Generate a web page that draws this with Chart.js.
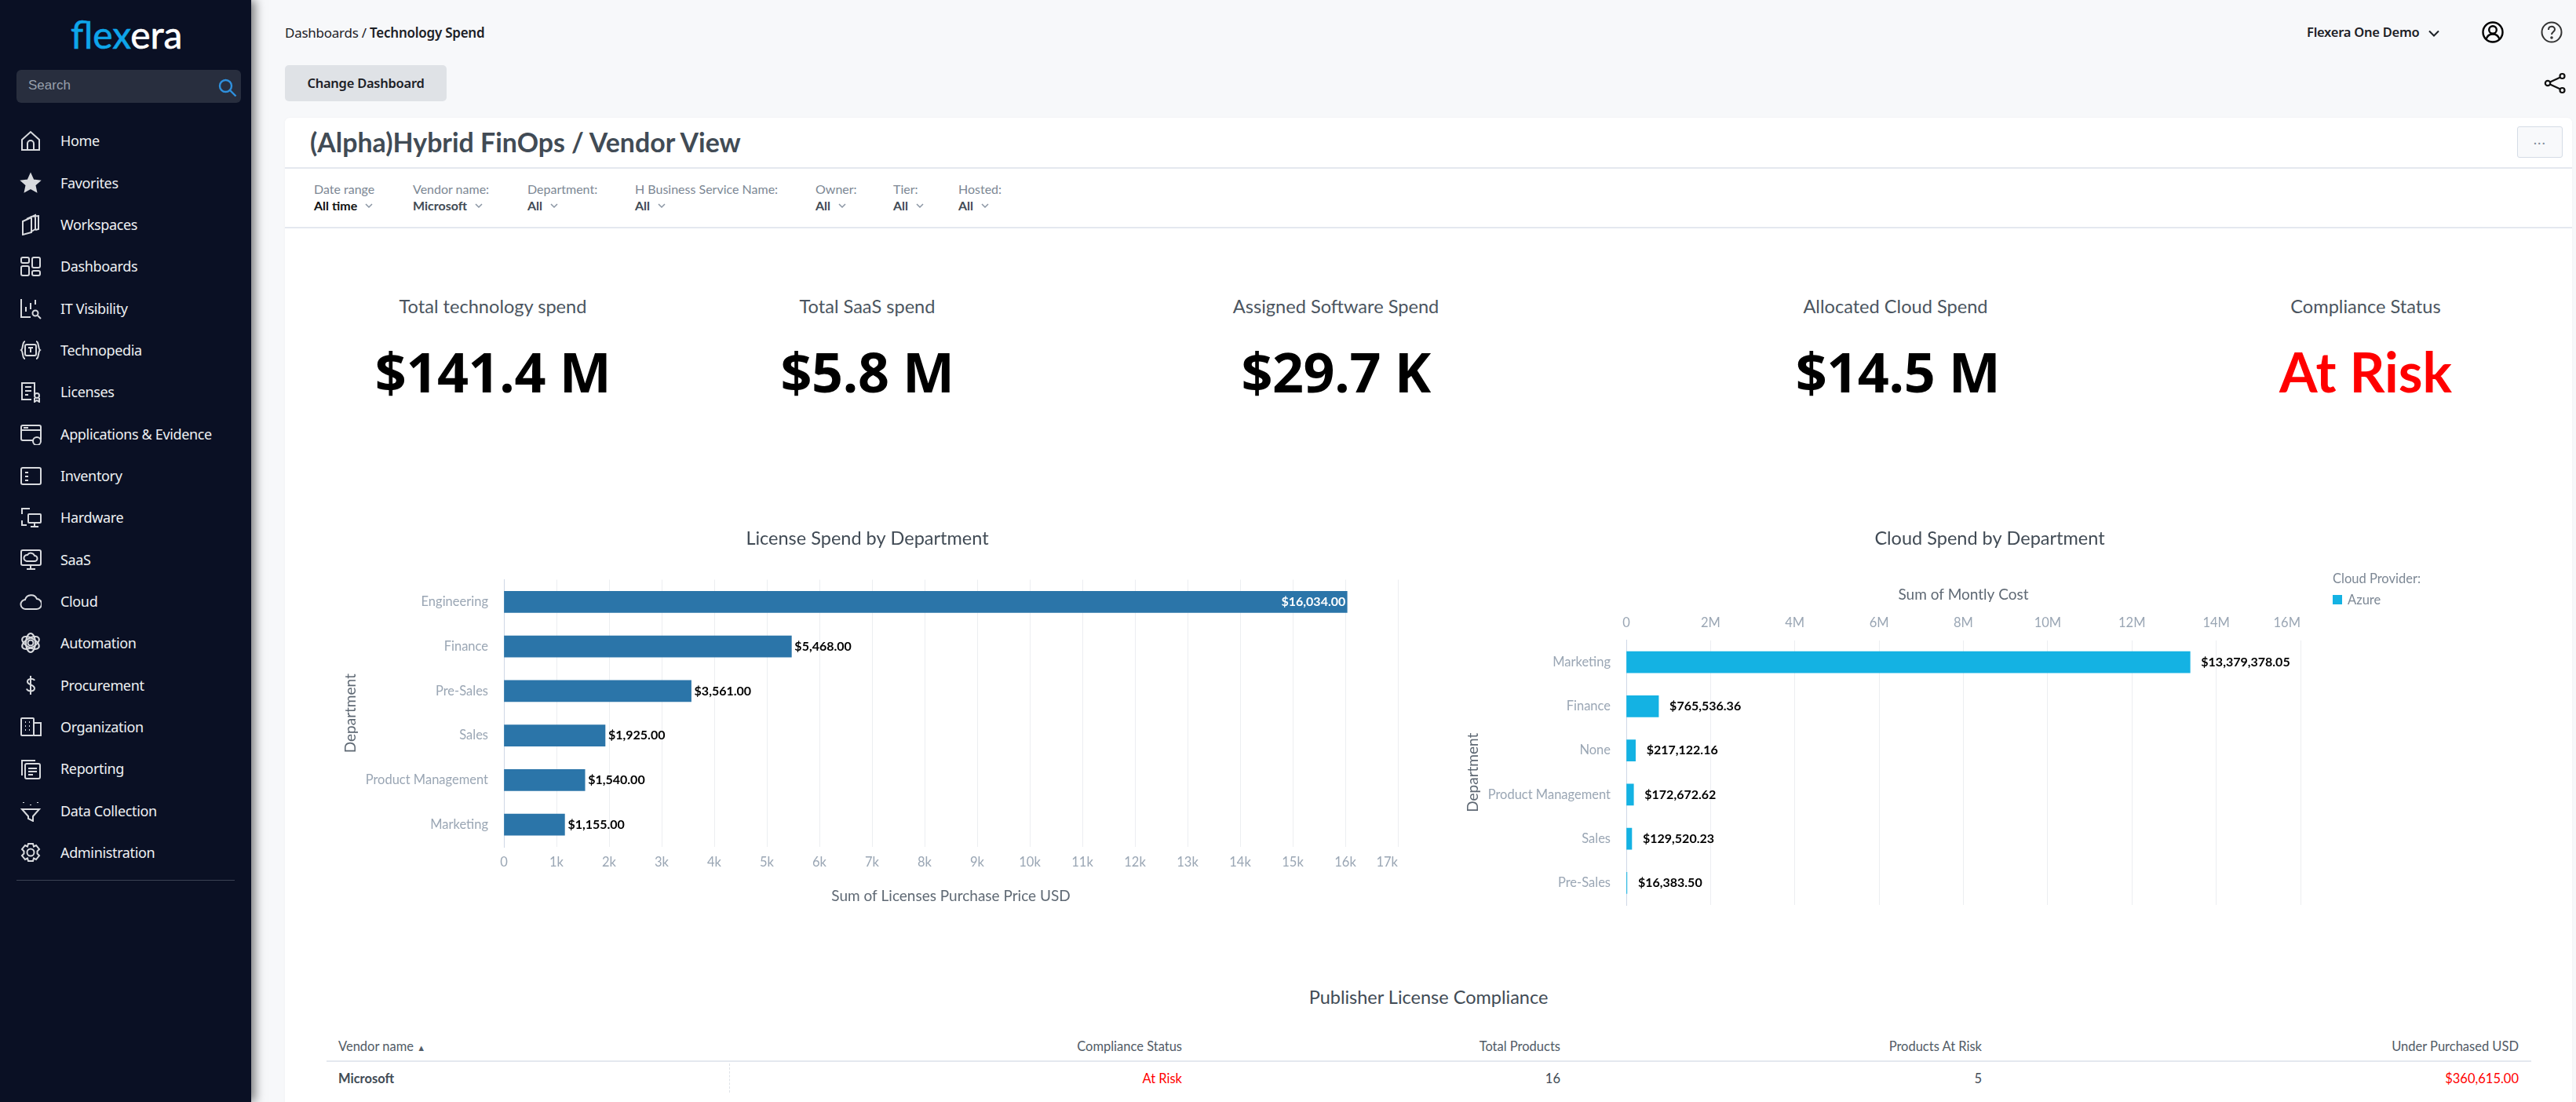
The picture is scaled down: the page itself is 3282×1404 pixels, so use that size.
<!DOCTYPE html>
<html>
<head>
<meta charset="utf-8">
<title>Technology Spend</title>
<script src="https://cdn.jsdelivr.net/npm/chart.js@4/dist/chart.umd.min.js"></script>
<style>
  html, body { margin: 0; padding: 0; background: #f7f8fa; }
  #page { position: relative; width: 3282px; height: 1404px; overflow: hidden; font-family: Lato, sans-serif; }
  .t { position: absolute; white-space: nowrap; line-height: 1; transform: translateY(-50%); }
  .c { transform: translate(-50%, -50%); }
  .r { transform: translate(-100%, -50%); }
  .ns { font-family: "Noto Sans", sans-serif; }
  #sidebar { position: absolute; left: 0; top: 0; width: 320px; height: 1404px; background: #0a1024; box-shadow: 5px 0 12px rgba(0,0,0,.5); z-index: 3; }
  #search { position: absolute; left: 21px; top: 89px; width: 286px; height: 42px; border-radius: 6px; background: #282e3e; }
  #card { position: absolute; left: 363px; top: 150px; width: 2914px; height: 1300px; background: #fff; border-radius: 6px; box-shadow: 0 0 3px rgba(0,0,0,.04); }
  .hline { position: absolute; height: 2px; background: #e4e8ef; }
  canvas { position: absolute; }
  .nav { color: #eef0f3; font-size: 18px; letter-spacing: -.35px; left: 77px; font-family: "Noto Sans", sans-serif; }
  .kpi-l { font-size: 23.6px; color: #4b5560; top: 391px; }
  .kpi-v { font-size: 70px; font-weight: 700; color: #000; top: 473px; font-family: "Open Sans", sans-serif; letter-spacing: -.5px; }
  .flt-l { font-size: 16px; color: #7c8794; top: 241px; }
  .flt-v { font-size: 16px; font-weight: 700; color: #414b55; top: 262px; }
  .th { font-size: 16.5px; color: #515b66; top: 1333px; }
  .td { font-size: 16.5px; color: #414b55; top: 1374px; }
</style>
</head>
<body>
<div id="page">
  <div id="sidebar">
    <div class="t" style="left:90px;top:44px;font-size:48px;font-weight:400;-webkit-text-stroke:.6px;color:#fff"><span style="color:#0ea5e9">flex</span>era</div>
    <div id="search">
      <div class="t" style="left:15px;top:20px;font:17px 'Liberation Sans',sans-serif;color:#98a0ac">Search</div>
      <svg style="position:absolute;left:257px;top:11px" width="24" height="24" viewBox="0 0 24 24" fill="none" stroke="#2f90dd" stroke-width="2.4"><circle cx="9.5" cy="9.5" r="7.5"/><path d="M15 15l7.5 7.5"/></svg>
    </div>
    <div id="nav"></div>
    <div style="position:absolute;left:21px;top:1121px;width:278px;height:1px;background:#3b4254"></div>
  </div>

  <div class="t ns" style="left:363px;top:41px;font-size:17px;color:#1c2026;letter-spacing:-.25px">Dashboards / <b style="font-weight:600">Technology Spend</b></div>
  <div style="position:absolute;left:363px;top:83px;width:206px;height:46px;border-radius:5px;background:#dfe2e6"></div>
  <div class="t c ns" style="left:466px;top:106px;font-size:16.5px;font-weight:600;color:#1c2026;letter-spacing:-.25px">Change Dashboard</div>

  <div class="t ns" style="left:2939px;top:41px;font-size:16.5px;font-weight:600;color:#1c2026;letter-spacing:-.25px">Flexera One Demo</div>
  <svg style="position:absolute;left:3094px;top:38px" width="14" height="9" viewBox="0 0 14 9" fill="none" stroke="#1c2026" stroke-width="2"><path d="M1 1.5l6 6 6-6"/></svg>
  <svg style="position:absolute;left:3162px;top:27px" width="28" height="28" viewBox="0 0 28 28" fill="none" stroke="#000" stroke-width="2.4"><circle cx="14" cy="14" r="12.5"/><circle cx="14" cy="11" r="4.8"/><path d="M5.5 23c1.5-5 4.5-6.5 8.5-6.5s7 1.5 8.5 6.5"/></svg>
  <svg style="position:absolute;left:3237px;top:27px" width="28" height="28" viewBox="0 0 28 28" fill="none" stroke="#333" stroke-width="2"><circle cx="14" cy="14" r="12.5"/><path d="M10 11c0-5.500 8-5.500 8-.5 0 3-4 3-4 6.500"/><circle cx="14" cy="21" r=".8"/></svg>
  <svg style="position:absolute;left:3241px;top:92px" width="28" height="28" viewBox="0 0 28 28" fill="none" stroke="#111" stroke-width="2.2"><circle cx="23.500" cy="5" r="3"/><circle cx="23.500" cy="23" r="3"/><circle cx="5" cy="14" r="3.200"/><path d="M8 12.500l13-6M8 15.500l13 6"/></svg>

  <div id="card"></div>
  <div class="hline" style="left:363px;top:213px;width:2914px"></div>
  <div class="hline" style="left:363px;top:289px;width:2914px"></div>
  <div class="t" style="left:395px;top:182px;font-size:33.9px;font-weight:700;color:#414b55">(Alpha)Hybrid FinOps / Vendor View</div>
  <div style="position:absolute;left:3207px;top:161px;width:56px;height:38px;border:1px solid #d5dce6;border-radius:3px;background:#f8f9fb"></div>
  <div class="t c" style="left:3236px;top:181px;font-size:15px;color:#7f8b99;letter-spacing:1.500px">···</div>
  <div id="filters"></div>

  <div class="t c kpi-l" style="left:628px">Total technology spend</div>
  <div class="t c kpi-v" style="left:628px">$141.4 M</div>
  <div class="t c kpi-l" style="left:1105px">Total SaaS spend</div>
  <div class="t c kpi-v" style="left:1105px">$5.8 M</div>
  <div class="t c kpi-l" style="left:1702px">Assigned Software Spend</div>
  <div class="t c kpi-v" style="left:1702px">$29.7 K</div>
  <div class="t c kpi-l" style="left:2415px">Allocated Cloud Spend</div>
  <div class="t c kpi-v" style="left:2418px">$14.5 M</div>
  <div class="t c kpi-l" style="left:3014px">Compliance Status</div>
  <div class="t c kpi-v" style="left:3014px;color:#ff0000;font-family:Lato,sans-serif;letter-spacing:0">At Risk</div>

  <canvas id="licenseChart" style="left:400px;top:650px"></canvas>
  <canvas id="cloudChart" style="left:1850px;top:650px"></canvas>

  <div class="t" style="left:2972px;top:737px;font-size:16.5px;color:#7c8794">Cloud Provider:</div>
  <div id="cloudLegend"></div>

  <div class="t c" style="left:1820px;top:1271px;font-size:23.5px;color:#414b55">Publisher License Compliance</div>
  <div class="t th" style="left:431px">Vendor name <span style="font-size:11px">▲</span></div>
  <div class="t r th" style="left:1506px">Compliance Status</div>
  <div class="t r th" style="left:1988px">Total Products</div>
  <div class="t r th" style="left:2525px">Products At Risk</div>
  <div class="t r th" style="left:3209px">Under Purchased USD</div>
  <div class="hline" style="left:416px;top:1351px;width:2809px"></div>
  <div style="position:absolute;left:929px;top:1355px;height:37px;border-left:1px dashed #dfe3e8"></div>
  <div class="t td" style="left:431px;font-weight:700">Microsoft</div>
  <div class="t r td" style="left:1506px;color:#ff0000">At Risk</div>
  <div class="t r td" style="left:1988px">16</div>
  <div class="t r td" style="left:2525px">5</div>
  <div class="t r td" style="left:3209px;color:#ff0000">$360,615.00</div>
</div>

<script>
// ── Chart data ───────────────────────────────────────────────────────────────

const licenseDepartments = ['Engineering', 'Finance', 'Pre-Sales', 'Sales', 'Product Management', 'Marketing'];
const licenseSpend = [16034, 5468, 3561, 1925, 1540, 1155];

const cloudDepartments = ['Marketing', 'Finance', 'None', 'Product Management', 'Sales', 'Pre-Sales'];
const cloudSpend = [13379378.05, 765536.36, 217122.16, 172672.62, 129520.23, 16383.50];
const cloudProviders = ['Azure'];

const navLabels = ['Home', 'Favorites', 'Workspaces', 'Dashboards', 'IT Visibility', 'Technopedia', 'Licenses',
  'Applications & Evidence', 'Inventory', 'Hardware', 'SaaS', 'Cloud', 'Automation', 'Procurement',
  'Organization', 'Reporting', 'Data Collection', 'Administration'];
const navTops = [179, 233, 286, 339, 393, 446, 499, 553, 606, 659, 713, 766, 819, 873, 926, 979, 1033, 1086];

const filterLabels = ['Date range', 'Vendor name:', 'Department:', 'H Business Service Name:', 'Owner:', 'Tier:', 'Hosted:'];
const filterValues = ['All time', 'Microsoft', 'All', 'All', 'All', 'All', 'All'];
const filterLefts = [400, 526, 672, 809, 1039, 1138, 1221];

// 28x28 outline icons, same order as navLabels
const navIcons = [
  '<path d="M3 13L14 3l11 10v13H3zM10 26v-8a4 4 0 0 1 8 0v8"/>',
  '<path fill="#d8dade" d="M14 3l3.400 7.500 8 .9-6 5.400 1.700 8L14 20.800 6.900 24.800l1.700-8-6-5.400 8-.9z"/>',
  '<path d="M4 10l11-5v19L4 27zM9 7l11-5v18l-5 3M14 4l10-1v17l-4 1"/>',
  '<rect x="2" y="3" width="10" height="7" rx="2"/><rect x="16" y="3" width="10" height="13" rx="2"/><rect x="2" y="14" width="10" height="12" rx="2"/><rect x="16" y="20" width="10" height="6" rx="2"/>',
  '<path d="M2 2v23h12M8 12v6M14 7v8M20 3v6"/><circle cx="20" cy="20" r="3.500"/><path d="M23 23l4 4"/>',
  '<path d="M7 3c-4 0-2 9-5 11 3 2 1 11 5 11M21 3c4 0 2 9 5 11-3 2-1 11-5 11"/><rect x="7" y="7" width="14" height="14" rx="2"/><path d="M11 11h6M14 11v6"/>',
  '<path d="M19 20V3H3v21h12M7 8h8M7 13h8M7 18h4"/><circle cx="22" cy="19" r="3"/><path d="M19 22v5l3-2 3 2v-5"/>',
  '<rect x="2" y="3" width="25" height="19" rx="2"/><path d="M2 9h25M5 6h6"/><circle cx="22" cy="23" r="5" fill="#0a1024"/>',
  '<rect x="2" y="4" width="25" height="21" rx="2"/><path d="M7 10h4M7 15h4M7 20h4"/>',
  '<path d="M13 3H3v7M3 18v6h6"/><rect x="11" y="10" width="16" height="11" rx="1"/><path d="M19 21v4M14 26h10"/>',
  '<rect x="2" y="2" width="25" height="19" rx="2"/><path d="M9 16a4 4 0 0 1 1-8 5 5 0 0 1 9 1 3.500 3.500 0 0 1 0 7zM14 21v4M9 26h11"/>',
  '<path d="M8 24a6 6 0 0 1-1-12 8 8 0 0 1 15-1 6.500 6.500 0 0 1-1 13z"/>',
  '<circle cx="14" cy="14" r="3.500"/><ellipse cx="14" cy="14" rx="12" ry="6" transform="rotate(30 14 14)"/><ellipse cx="14" cy="14" rx="12" ry="6" transform="rotate(-30 14 14)"/><ellipse cx="14" cy="14" rx="12" ry="6" transform="rotate(90 14 14)"/>',
  '<path d="M19 8c-1-3-9-3-9 1.500S19 13 19 18s-9 4-10 .5M14 2v24"/>',
  '<rect x="2" y="3" width="16" height="22" rx="1"/><path d="M18 9h9v16H18M7 8h1M12 8h1M7 13h1M12 13h1M7 18h1M12 18h1"/>',
  '<path d="M3 23V4h17"/><rect x="7" y="8" width="19" height="19" rx="2"/><path d="M11 14h11M11 18h11M11 22h6"/>',
  '<path d="M3 12h22l-8 9v6l-6-3v-3z"/><path d="M5 3v1M14 6v1M23 3v1"/>',
  '<circle cx="14" cy="14" r="4.500"/><path d="M11 3h6l1 3.500 3-1.500 4 5-2.500 2.500v3L25 18l-4 5-3-1.500-1 3.500h-6l-1-3.500L7 23l-4-5 2.500-2.500v-3L3 10l4-5 3 1.500z"/>'
];

// ── Page chrome ──────────────────────────────────────────────────────────────

function renderNav() {
  const nav = document.getElementById('nav');
  navLabels.forEach((label, i) => {
    const item = document.createElement('div');
    item.className = 't nav';
    item.style.top = navTops[i] + 'px';
    item.textContent = label;
    nav.appendChild(item);

    const svg = document.createElementNS('http://www.w3.org/2000/svg', 'svg');
    svg.setAttribute('width', 28);
    svg.setAttribute('height', 28);
    svg.setAttribute('viewBox', '0 0 28 28');
    svg.setAttribute('fill', 'none');
    svg.setAttribute('stroke', '#d8dade');
    svg.setAttribute('stroke-width', 2);
    svg.style.cssText = `position:absolute;left:25px;top:${navTops[i] - 14}px`;
    svg.innerHTML = navIcons[i];
    nav.appendChild(svg);
  });
}

function renderFilters() {
  const box = document.getElementById('filters');
  filterLabels.forEach((label, i) => {
    const l = document.createElement('div');
    l.className = 't flt-l';
    l.style.left = filterLefts[i] + 'px';
    l.textContent = label;
    box.appendChild(l);

    const v = document.createElement('div');
    v.className = 't flt-v';
    v.style.left = filterLefts[i] + 'px';
    if (i === 0) v.style.color = '#111';
    v.innerHTML = filterValues[i] +
      ' <svg style="margin-left:6px;vertical-align:2px" width="10" height="7" viewBox="0 0 10 7" fill="none" stroke="#8a95a3" stroke-width="1.500"><path d="M1 1l4 4 4-4"/></svg>';
    box.appendChild(v);
  });
}

function renderCloudLegend() {
  const box = document.getElementById('cloudLegend');
  cloudProviders.forEach(name => {
    const swatch = document.createElement('div');
    swatch.style.cssText = 'position:absolute;left:2972px;top:758px;width:12px;height:12px;background:#14b2e3';
    box.appendChild(swatch);
    const lbl = document.createElement('div');
    lbl.className = 't';
    lbl.style.cssText = 'left:2991px;top:764px;font-size:16.5px;color:#7c8794';
    lbl.textContent = name;
    box.appendChild(lbl);
  });
}

// ── Chart helpers ────────────────────────────────────────────────────────────

const usd = v => v.toLocaleString('en-US', { style: 'currency', currency: 'USD' });

// prints the amount after each bar, or inside it when it would not fit
const barValueLabels = {
  id: 'barValueLabels',
  afterDatasetsDraw(chart, args, opts) {
    const { ctx, chartArea } = chart;
    const values = chart.data.datasets[0].data;
    ctx.save();
    ctx.font = 'bold 16px Lato, sans-serif';
    ctx.textBaseline = 'middle';
    chart.getDatasetMeta(0).data.forEach((bar, i) => {
      const text = usd(values[i]);
      const fits = bar.x + opts.gap + ctx.measureText(text).width < chartArea.right;
      ctx.textAlign = fits ? 'left' : 'right';
      ctx.fillStyle = fits ? '#000' : '#fff';
      ctx.fillText(text, fits ? bar.x + opts.gap : bar.x - 2, bar.y);
    });
    ctx.restore();
  }
};

// last x tick label stays inside the plot instead of centring on its gridline
const lastTickInside = {
  id: 'lastTickInside',
  beforeDraw(chart) {
    const items = chart.scales.x.getLabelItems();
    items[items.length - 1].options.textAlign = 'right';
  }
};

function hBarChart(id, { labels, data, name, color, size, xScale, yWidth, yTitlePad, padding, gap }) {
  const canvas = document.getElementById(id);
  canvas.width = size[0];
  canvas.height = size[1];
  return new Chart(canvas.getContext('2d'), {
    type: 'bar',
    data: { labels, datasets: [{ label: name, data, backgroundColor: color, barThickness: 27 }] },
    plugins: [barValueLabels, lastTickInside],
    options: {
      indexAxis: 'y',
      responsive: false,
      animation: false,
      layout: { padding },
      plugins: {
        legend: { display: false },
        tooltip: { enabled: false },
        title: {
          display: true,
          text: name,
          color: '#414b55',
          font: { family: 'Lato', size: 23.5, weight: 'normal' },
          padding: { top: 19, bottom: 38.3 }
        },
        barValueLabels: { gap }
      },
      scales: {
        x: xScale,
        y: {
          grid: { display: false },
          border: { color: '#cfd8e6', width: 1 },
          ticks: { color: '#9aa6b4', padding: 12, font: { family: 'Lato', size: 16.5 } },
          title: {
            display: true,
            text: 'Department',
            color: '#5f6974',
            padding: { top: yTitlePad, bottom: 0 },
            font: { family: 'Lato', size: 19 }
          },
          afterFit(scale) {
            scale.width = yWidth;
            scale.paddingTop = 0;
            scale.paddingBottom = 0;
          }
        }
      }
    }
  });
}

function valueAxis(opts) {
  return {
    min: 0,
    grid: { color: '#eceef1', drawTicks: false },
    border: { display: false },
    ...opts,
    afterFit(scale) {
      scale.height = opts.boxHeight;
      scale.paddingLeft = 0;
      scale.paddingRight = opts.rightGap; // keeps the chart title centred on the whole canvas
    }
  };
}

const tickFont = { family: 'Lato', size: 16.5 };
const axisTitleFont = { family: 'Lato', size: 19 };

// ── Main ─────────────────────────────────────────────────────────────────────

renderNav();
renderFilters();
renderCloudLegend();

hBarChart('licenseChart', {
  labels: licenseDepartments,
  data: licenseSpend,
  name: 'License Spend by Department',
  color: '#2b75a9',
  size: [1410, 510],
  yWidth: 242,
  yTitlePad: 35,
  gap: 4,
  padding: { top: 3 },
  xScale: valueAxis({
    max: 17000,
    boxHeight: 81,
    rightGap: 29,
    ticks: { stepSize: 1000, color: '#9aa6b4', padding: 10, maxRotation: 0, autoSkip: false, font: tickFont,
      callback: v => (v === 0 ? '0' : v / 1000 + 'k') },
    title: { display: true, text: 'Sum of Licenses Purchase Price USD', color: '#5f6974', padding: { top: 0, bottom: 7 }, font: axisTitleFont }
  })
});

hBarChart('cloudChart', {
  labels: cloudDepartments,
  data: cloudSpend,
  name: 'Cloud Spend by Department',
  color: '#14b2e3',
  size: [1370, 510],
  yWidth: 222,
  yTitlePad: 15,
  gap: 14,
  padding: { top: 3, bottom: 7 },
  xScale: valueAxis({
    position: 'top',
    max: 16000000,
    boxHeight: 77,
    rightGap: 289,
    ticks: { stepSize: 2000000, color: '#9aa6b4', padding: 12, maxRotation: 0, autoSkip: false, font: tickFont,
      callback: v => (v === 0 ? '0' : v / 1000000 + 'M') },
    title: { display: true, text: 'Sum of Montly Cost', color: '#5f6974', padding: { top: 8, bottom: 0 }, font: axisTitleFont }
  })
});
</script>
</body>
</html>
